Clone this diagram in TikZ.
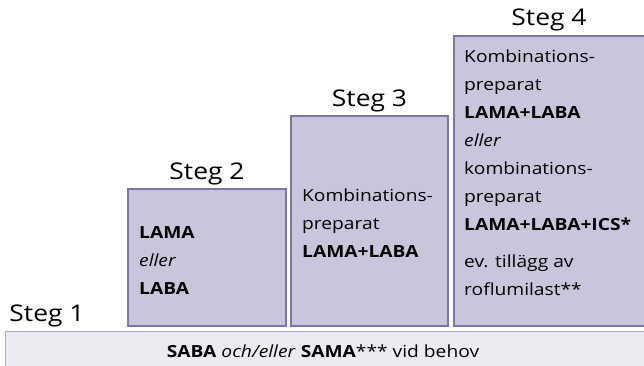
\documentclass[tikz,border=0pt]{standalone}
\usepackage{fontspec}
\setmainfont{Open Sans}[FakeStretch=1.15]
\definecolor{boxfill}{HTML}{C9C6DC}
\definecolor{boxline}{HTML}{7C76AD}
\definecolor{barfill}{HTML}{ECEBF2}
\definecolor{barline}{HTML}{A9A5CB}
\begin{document}
\begin{tikzpicture}[x=1pt,y=-1pt,
  stepbox/.style={fill=boxfill,draw=boxline,line width=1.4pt},
  barbox/.style={fill=barfill,draw=barline,line width=1pt},
  steglabel/.style={font=\fontsize{23}{26}\selectfont,anchor=base,inner sep=0pt},
  boxtext/.style={font=\fontsize{16.7}{28}\selectfont,align=left,anchor=base west,inner sep=0pt}]
\useasboundingbox (0,0) rectangle (644,365);
\clip (0,0) rectangle (644,365);
\fill[white] (0,0) rectangle (644,365);
% boxes
\draw[stepbox] (128,189) rectangle (286,326);
\draw[stepbox] (291,116) rectangle (448,326);
\draw[stepbox] (454,36) rectangle (650,326);
\draw[barbox] (5,331) rectangle (650,372);
% labels
\node[steglabel] (s1) at (47,321) {Steg 1};
\node[steglabel] (s2) at (207,179) {Steg 2};
\node[steglabel] (s3) at (369.5,106) {Steg 3};
\node[steglabel] (s4) at (549,25) {Steg 4};
% texts (anchored at the baseline of the last line)
\node[boxtext] (t2) at (139,294) {\textbf{LAMA}\\\textit{eller}\\\textbf{LABA}};
\node[boxtext] (t3) at (302,257) {Kombinations-\\preparat\\\textbf{LAMA+LABA}};
\node[boxtext] (t4) at (464,295) {Kombinations-\\preparat\\\textbf{LAMA+LABA}\\\textit{eller}\\kombinations-\\preparat\\\textbf{LAMA+LABA+ICS*}\\[9pt]ev. tillägg av\\roflumilast**};
\node[font=\fontsize{16.7}{18}\selectfont,anchor=base,inner sep=0pt] (bar) at (323,357) {\textbf{SABA} \textit{och/eller} \textbf{SAMA}*** vid behov};
\end{tikzpicture}
\end{document}
